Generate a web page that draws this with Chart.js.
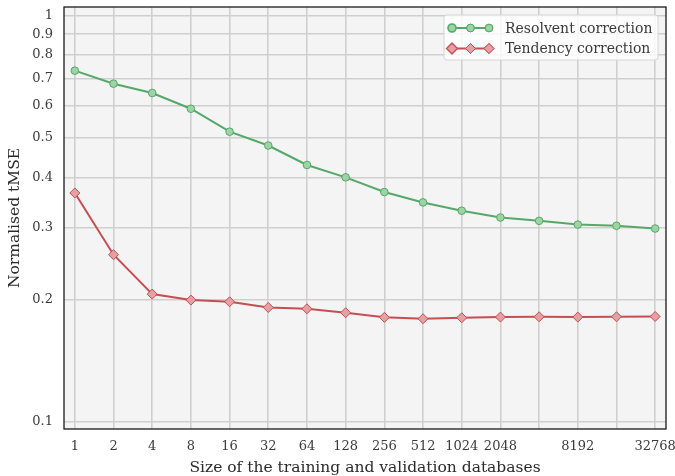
<!DOCTYPE html>
<html>
<head>
<meta charset="utf-8">
<script src="https://cdn.jsdelivr.net/npm/chart.js@4/dist/chart.umd.min.js"></script>
<style>
  html, body { margin: 0; padding: 0; background: #fff; }
  #wrap { width: 675px; height: 476px; }
</style>
</head>
<body>
<div id="wrap"><canvas id="chart"></canvas></div>
<script>
// ─── Data ───
const sizes = [1, 2, 4, 8, 16, 32, 64, 128, 256, 512, 1024, 2048, 4096, 8192, 16384, 32768];
const xTickLabels = ['1', '2', '4', '8', '16', '32', '64', '128', '256', '512', '1024', '2048', '', '8192', '', '32768'];
const resolvent = [0.732, 0.680, 0.645, 0.590, 0.518, 0.479, 0.429, 0.400, 0.368, 0.347, 0.331, 0.3185, 0.3126, 0.306, 0.304, 0.2993];
const tendency = [0.366, 0.258, 0.2064, 0.1995, 0.1976, 0.1913, 0.1899, 0.1857, 0.1809, 0.1795, 0.1805, 0.1812, 0.1815, 0.1812, 0.1815, 0.1818];
const yTicks = [0.1, 0.2, 0.3, 0.4, 0.5, 0.6, 0.7, 0.8, 0.9, 1];
const yTickLabels = ['0.1', '0.2', '0.3', '0.4', '0.5', '0.6', '0.7', '0.8', '0.9', '1'];

const FONT = '"DejaVu Serif", "Liberation Serif", serif';

// plot background + frame
const frame = {
    id: 'frame',
    beforeDraw(chart) {
        const { ctx, chartArea: a } = chart;
        ctx.save();
        ctx.fillStyle = '#f4f4f4';
        ctx.fillRect(a.left, a.top, a.right - a.left, a.bottom - a.top);
        ctx.restore();
    },
    afterDatasetsDraw(chart) {
        const { ctx, chartArea: a } = chart;
        ctx.save();
        ctx.strokeStyle = '#1a1a1a';
        ctx.lineWidth = 1.3;
        ctx.strokeRect(a.left, a.top, a.right - a.left, a.bottom - a.top);
        ctx.restore();
    }
};

// legend with three markers per line, like matplotlib
const lineLegend = {
    id: 'lineLegend',
    afterDraw(chart) {
        const { ctx, chartArea: a } = chart;
        const x0 = a.right - 222, y0 = a.top + 8, w = 214, h = 45;
        ctx.save();
        ctx.beginPath();
        ctx.roundRect(x0, y0, w, h, 3);
        ctx.fillStyle = 'rgba(255,255,255,0.8)';
        ctx.fill();
        ctx.strokeStyle = '#d6d6d6';
        ctx.lineWidth = 1;
        ctx.stroke();
        chart.data.datasets.forEach((ds, i) => {
            const y = y0 + 13 + i * 20.5;
            ctx.strokeStyle = ds.borderColor;
            ctx.lineWidth = ds.borderWidth;
            ctx.beginPath();
            ctx.moveTo(x0 + 5, y);
            ctx.lineTo(x0 + 48, y);
            ctx.stroke();
            [x0 + 8, x0 + 26.5, x0 + 45].forEach(mx => {
                Chart.helpers.drawPoint(ctx, {
                    pointStyle: ds.pointStyle,
                    radius: ds.pointRadius,
                    rotation: 0,
                    borderWidth: ds.pointBorderWidth
                }, mx, y);
                ctx.fillStyle = ds.pointBackgroundColor;
                ctx.strokeStyle = ds.pointBorderColor;
                ctx.lineWidth = ds.pointBorderWidth;
                ctx.fill();
                ctx.stroke();
            });
            ctx.fillStyle = '#3a3a3a';
            ctx.font = '14px ' + FONT;
            ctx.textBaseline = 'middle';
            ctx.fillText(ds.label, x0 + 61, y + 1);
        });
        ctx.restore();
    }
};

new Chart(document.getElementById('chart'), {
    type: 'line',
    data: {
        datasets: [{
            label: 'Resolvent correction',
            data: resolvent.map((v, i) => ({ x: Math.log2(sizes[i]), y: v })),
            borderColor: '#55a868',
            borderWidth: 2,
            pointStyle: 'circle',
            pointRadius: 3.8,
            pointBackgroundColor: '#9dd4a6',
            pointBorderColor: '#55a868',
            pointBorderWidth: 1,
            tension: 0
        }, {
            label: 'Tendency correction',
            data: tendency.map((v, i) => ({ x: Math.log2(sizes[i]), y: v })),
            borderColor: '#c44e52',
            borderWidth: 2,
            pointStyle: 'rectRot',
            pointRadius: 5,
            pointBackgroundColor: '#e6a0a3',
            pointBorderColor: '#c44e52',
            pointBorderWidth: 1,
            tension: 0
        }]
    },
    options: {
        responsive: true,
        maintainAspectRatio: false,
        animation: false,
        layout: { padding: { top: 7, right: 9, left: 0, bottom: 0 } },
        plugins: { legend: { display: false }, tooltip: { enabled: false } },
        scales: {
            x: {
                type: 'linear',
                min: -0.28,
                max: 15.28,
                afterBuildTicks: axis => { axis.ticks = sizes.map(s => ({ value: Math.log2(s) })); },
                afterFit: axis => { axis.height = 47; axis.paddingLeft = 0; axis.paddingRight = 0; },
                grid: { color: '#cfcfcf', lineWidth: 1.6, drawTicks: false },
                border: { display: false },
                ticks: {
                    autoSkip: false,
                    maxRotation: 0,
                    padding: 10,
                    color: '#3a3a3a',
                    font: { family: FONT, size: 13 },
                    callback: (v, i) => xTickLabels[i]
                },
                title: {
                    display: true,
                    text: 'Size of the training and validation databases',
                    color: '#2a2a2a',
                    font: { family: FONT, size: 15.5, lineHeight: 1 },
                    padding: { top: 0, bottom: 0 }
                }
            },
            y: {
                type: 'logarithmic',
                min: 0.0961,
                max: 1.05,
                afterBuildTicks: axis => { axis.ticks = yTicks.map(v => ({ value: v })); },
                afterFit: axis => { axis.width = 64; axis.paddingTop = 0; axis.paddingBottom = 0; },
                grid: { color: '#cfcfcf', lineWidth: 1.6, drawTicks: false },
                border: { display: false },
                ticks: {
                    padding: 11,
                    color: '#3a3a3a',
                    font: { family: FONT, size: 13 },
                    callback: (v, i) => yTickLabels[i]
                },
                title: {
                    display: true,
                    text: 'Normalised tMSE',
                    color: '#2a2a2a',
                    font: { family: FONT, size: 15.5, lineHeight: 1 },
                    padding: { top: 7, bottom: 0 }
                }
            }
        }
    },
    plugins: [frame, lineLegend]
});
</script>
</body>
</html>
